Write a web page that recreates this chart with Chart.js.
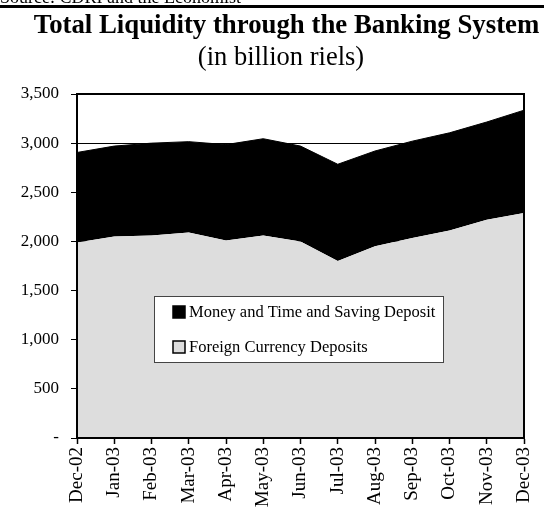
<!DOCTYPE html>
<html>
<head>
<meta charset="utf-8">
<script src="https://cdn.jsdelivr.net/npm/chart.js@4.4.0/dist/chart.umd.min.js"></script>
<style>
  body { margin: 0; background: #fff; }
  canvas { display: block; }
</style>
</head>
<body>
<canvas id="grafico" width="544" height="510"></canvas>
<script>
// Dados (bilhões de riels)
const months = ['Dec-02', 'Jan-03', 'Feb-03', 'Mar-03', 'Apr-03', 'May-03', 'Jun-03',
                'Jul-03', 'Aug-03', 'Sep-03', 'Oct-03', 'Nov-03', 'Dec-03'];
const foreignDeposits = [1990, 2050, 2060, 2090, 2010, 2060, 2000, 1800, 1950, 2035, 2110, 2220, 2290];
const moneyTimeSaving = [915, 920, 940, 925, 975, 985, 970, 985, 970, 985, 995, 995, 1045];
const yTickLabels = ['-', '500', '1,000', '1,500', '2,000', '2,500', '3,000', '3,500'];

const serif = '"Liberation Serif", "Times New Roman", serif';

// Títulos, linha da fonte, moldura e legenda desenhados à mão
const decoracao = {
    id: 'decoracao',
    beforeDraw(chart) {
        const ctx = chart.ctx;
        ctx.save();
        ctx.fillStyle = '#fff';
        ctx.fillRect(0, 0, chart.width, chart.height);
        ctx.fillStyle = '#000';
        ctx.textBaseline = 'alphabetic';
        ctx.font = '18px ' + serif;
        ctx.fillText('Source: CDRI and the Economist', 0, 3);
        ctx.fillRect(0, 5, chart.width, 3);
        ctx.textAlign = 'center';
        ctx.font = 'bold 26.8px ' + serif;
        ctx.fillText('Total Liquidity through the Banking System', 286.5, 33);
        ctx.font = '26.5px ' + serif;
        ctx.fillText('(in billion riels)', 281, 65);
        ctx.restore();
    },
    afterDatasetsDraw(chart) {
        const ctx = chart.ctx;
        const a = chart.chartArea;
        ctx.save();
        ctx.strokeStyle = '#000';
        ctx.lineWidth = 2;
        ctx.strokeRect(a.left, a.top, a.right - a.left, a.bottom - a.top);

        // legenda dentro da área do gráfico
        ctx.fillStyle = '#fff';
        ctx.fillRect(154, 296, 289, 66);
        ctx.lineWidth = 1;
        ctx.strokeStyle = '#444';
        ctx.strokeRect(154.5, 296.5, 289, 66);
        ctx.font = '16.5px ' + serif;
        ctx.textBaseline = 'middle';
        const itens = chart.data.datasets.slice().reverse();
        itens.forEach((ds, i) => {
            const y = 312 + i * 35;
            ctx.fillStyle = ds.backgroundColor;
            ctx.fillRect(173, y - 6, 12, 12);
            ctx.strokeStyle = '#000';
            ctx.lineWidth = 1.5;
            ctx.strokeRect(173, y - 6, 12, 12);
            ctx.fillStyle = '#000';
            ctx.fillText(ds.label, 189, y + 1);
        });
        ctx.restore();
    }
};

new Chart(document.getElementById('grafico').getContext('2d'), {
    type: 'line',
    data: {
        labels: months,
        datasets: [{
            label: 'Foreign Currency Deposits',
            data: foreignDeposits,
            fill: 'origin',
            backgroundColor: '#dddddd',
            borderColor: '#dddddd',
            borderWidth: 0,
            pointRadius: 0,
            tension: 0
        }, {
            label: 'Money and Time and Saving Deposit',
            data: moneyTimeSaving,
            fill: '-1',
            backgroundColor: '#000000',
            borderColor: '#000000',
            borderWidth: 1,
            pointRadius: 0,
            tension: 0
        }]
    },
    options: {
        responsive: false,
        animation: false,
        layout: { padding: { top: 94, right: 20, bottom: 0, left: 0 } },
        plugins: {
            legend: { display: false },
            tooltip: { enabled: false }
        },
        scales: {
            x: {
                offset: false,
                grid: { drawOnChartArea: false, tickLength: 6, tickColor: '#000', tickWidth: 1.5 },
                border: { color: '#000', width: 2 },
                ticks: {
                    autoSkip: false,
                    minRotation: 90,
                    maxRotation: 90,
                    padding: 3,
                    color: '#000',
                    font: { family: serif, size: 19 }
                },
                afterFit(s) {
                    s.height = 72;
                    s.paddingLeft = 0;
                    s.paddingRight = 0;
                }
            },
            y: {
                stacked: true,
                min: 0,
                max: 3500,
                ticks: {
                    stepSize: 500,
                    padding: 12,
                    color: '#000',
                    font: { family: serif, size: 17 },
                    callback: (v, i) => yTickLabels[i]
                },
                grid: { color: '#000', lineWidth: 1, tickLength: 6, tickColor: '#000' },
                border: { color: '#000', width: 2 },
                afterFit(s) {
                    s.width = 77;
                    s.paddingTop = 0;
                    s.paddingBottom = 0;
                }
            }
        }
    },
    plugins: [decoracao]
});
</script>
</body>
</html>
